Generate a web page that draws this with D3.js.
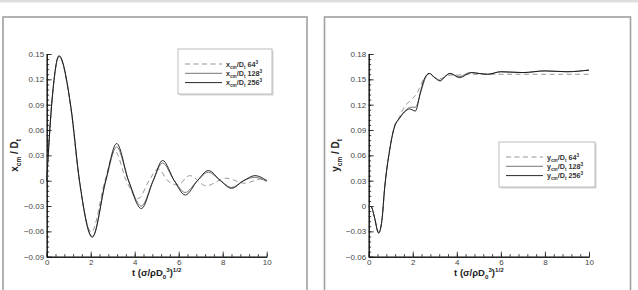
<!DOCTYPE html>
<html>
<head>
<meta charset="utf-8">
<script src="https://cdn.jsdelivr.net/npm/d3@7"></script>
<style>
  body { margin: 0; background: #fff; }
  svg { display: block; font-family: "Liberation Sans", Arial, sans-serif; }
</style>
</head>
<body>
<svg id="chart" width="638" height="290"></svg>
<script>
// Values, as [t, value] points
const xTicks = [0, 2, 4, 6, 8, 10];
const yTicksLeft = [-0.09, -0.06, -0.03, 0, 0.03, 0.06, 0.09, 0.12, 0.15];
const yTicksRight = [-0.06, -0.03, 0, 0.03, 0.06, 0.09, 0.12, 0.15, 0.18];
const gridNames = ["64", "128", "256"];

// x_cm / D_t
const xcm64 = [[0,0.002],[0.25,0.097],[0.55,0.147],[1.1,0.085],[1.48,0],[2.03,-0.061],[2.65,0],[3.1,0.035],
  [3.62,0],[4.17,-0.021],[4.65,0],[5.07,0.014],[5.5,0],[5.95,-0.005],[6.5,0.006],[7.25,-0.006],
  [8.15,0.003],[9.0,-0.003],[9.75,0.002],[10,0.001]];
const xcm128 = [[0,0],[0.25,0.097],[0.56,0.147],[1.1,0.087],[1.49,0],[2.08,-0.066],[2.69,0],[3.18,0.040],
  [3.72,0],[4.3,-0.030],[4.84,0],[5.26,0.021],[5.8,0],[6.3,-0.014],[6.85,0],[7.35,0.010],[7.9,0],
  [8.4,-0.008],[8.95,0],[9.45,0.004],[10,-0.001]];
const xcm256 = [[0,0],[0.25,0.098],[0.56,0.148],[1.1,0.087],[1.49,0],[2.07,-0.067],[2.68,0],[3.18,0.044],
  [3.72,0],[4.3,-0.033],[4.84,0],[5.27,0.024],[5.8,0],[6.3,-0.017],[6.85,0],[7.35,0.012],[7.9,0],
  [8.4,-0.009],[8.95,0],[9.47,0.006],[10,0]];

// y_cm / D_t
const ycm64 = [[0,0],[0.12,-0.001],[0.25,-0.012],[0.45,-0.031],[0.6,-0.017],[0.72,0.02],[0.95,0.067],
  [1.15,0.093],[1.4,0.106],[1.62,0.1175],[1.92,0.1255],[2.15,0.132],[2.52,0.151],[2.72,0.156],
  [3.1,0.151],[3.3,0.151],[3.6,0.155],[4.0,0.155],[4.5,0.156],[5.0,0.156],[6,0.156],[8,0.156],[10,0.156]];
const ycm128 = [[0,0],[0.12,-0.001],[0.25,-0.012],[0.45,-0.032],[0.6,-0.017],[0.72,0.02],[0.95,0.066],
  [1.15,0.092],[1.4,0.104],[1.7,0.114],[1.9,0.117],[2.12,0.117],[2.4,0.138],[2.6,0.153],[2.75,0.157],
  [3.0,0.152],[3.25,0.149],[3.45,0.153],[3.7,0.157],[4.1,0.153],[4.6,0.158],[5.0,0.157],[5.4,0.156],
  [6.0,0.159],[7.0,0.158],[8.0,0.160],[9.0,0.159],[10,0.161]];
const ycm256 = [[0,0],[0.12,-0.001],[0.25,-0.012],[0.45,-0.032],[0.6,-0.017],[0.72,0.02],[0.95,0.066],
  [1.15,0.092],[1.4,0.104],[1.7,0.113],[1.85,0.115],[2.12,0.1125],[2.35,0.135],[2.55,0.152],[2.75,0.157],
  [3.0,0.152],[3.25,0.148],[3.45,0.153],[3.68,0.157],[4.13,0.152],[4.66,0.158],[5.0,0.157],[5.4,0.156],
  [6.0,0.159],[7.0,0.158],[8.0,0.160],[9.0,0.159],[10,0.161]];

const svg = d3.select("#chart");
const styles = [
  { stroke: "#8a8a8a", dash: "5,3.5", width: 0.9 },
  { stroke: "#666", dash: null, width: 0.9 },
  { stroke: "#111", dash: null, width: 0.9 }
];

// thin light rule along the top of the image
svg.append("rect").attr("x", 0).attr("y", 0).attr("width", 638).attr("height", 2.5).attr("fill", "#dedede");

// text with sub/superscripts: parts = [string, "sub" | "sup" | null]
function richText(sel, parts, size) {
  let cur = 0;
  parts.forEach(([s, kind]) => {
    const target = kind === "sub" ? size * 0.3 : kind === "sup" ? -size * 0.42 : 0;
    sel.append("tspan")
      .attr("dy", target - cur)
      .attr("font-size", kind ? size * 0.65 : size)
      .text(s);
    cur = target;
  });
}

function drawPanel(p) {
  const g = svg.append("g");

  g.append("rect")
    .attr("x", p.frame[0]).attr("y", p.frame[1])
    .attr("width", p.frame[2]).attr("height", p.frame[3])
    .attr("fill", "none").attr("stroke", "#a0a0a0").attr("stroke-width", 1.6);

  const x = d3.scaleLinear().domain([0, 10]).range([p.left, p.right]);
  const y = d3.scaleLinear().domain(p.yDomain).range([p.bottom, p.top]);

  const yMinor = d3.range(Math.round(p.yDomain[0] / 0.006), Math.round(p.yDomain[1] / 0.006) + 1).map(i => i * 0.006);
  const xMinor = d3.range(0, 26).map(i => i * 0.4);

  g.append("g").attr("transform", `translate(${p.left},0)`)
    .call(d3.axisLeft(y).tickValues(yMinor).tickSize(-2.5).tickSizeOuter(0).tickFormat(""));
  g.append("g").attr("transform", `translate(0,${p.bottom})`)
    .call(d3.axisBottom(x).tickValues(xMinor).tickSize(-2.5).tickSizeOuter(0).tickFormat(""));

  const yAxis = g.append("g").attr("transform", `translate(${p.left},0)`)
    .call(d3.axisLeft(y).tickValues(p.yTicks).tickSize(-5).tickSizeOuter(0).tickPadding(2.5)
      .tickFormat(d => Math.abs(d) < 1e-9 ? "0" : d3.format(".2f")(d)));
  const xAxis = g.append("g").attr("transform", `translate(0,${p.bottom})`)
    .call(d3.axisBottom(x).tickValues(xTicks).tickSize(-5).tickSizeOuter(0).tickPadding(3));

  g.selectAll(".domain").attr("stroke", "#111").attr("stroke-width", 1);
  g.selectAll(".tick line").attr("stroke", "#111").attr("stroke-width", 0.8);
  [xAxis, yAxis].forEach(a => a.selectAll("text")
    .attr("font-size", 8).attr("fill", "#444").attr("font-family", "Liberation Sans, Arial, sans-serif"));

  const line = d3.line().x(d => x(d[0])).y(d => y(d[1])).curve(d3.curveMonotoneX);
  p.series.forEach((s, i) => {
    g.append("path").datum(s)
      .attr("fill", "none")
      .attr("stroke", styles[i].stroke)
      .attr("stroke-width", styles[i].width)
      .attr("stroke-dasharray", styles[i].dash)
      .attr("d", line);
  });

  // axis titles
  const yl = g.append("text")
    .attr("transform", `translate(${p.yLabelX},${(p.top + p.bottom) / 2}) rotate(-90)`)
    .attr("text-anchor", "middle").attr("font-weight", "bold").attr("fill", "#222");
  richText(yl, [[p.v, null], ["cm", "sub"], [" / D", null], ["t", "sub"]], 10);

  const xl = g.append("text")
    .attr("x", (p.left + p.right) / 2).attr("y", 276)
    .attr("text-anchor", "middle").attr("font-weight", "bold").attr("fill", "#222");
  richText(xl, [["t (σ/ρD", null], ["0", "sub"], ["3", "sup"], [")", null], ["1/2", "sup"]], 9.5);

  // legend
  const L = p.legend;
  g.append("rect").attr("x", L.x + 1.5).attr("y", L.y + 1.5).attr("width", L.w).attr("height", L.h)
    .attr("fill", "#d4d4d4");
  g.append("rect").attr("x", L.x).attr("y", L.y).attr("width", L.w).attr("height", L.h)
    .attr("fill", "#fff").attr("stroke", "#bdbdbd").attr("stroke-width", 1);

  gridNames.forEach((n, i) => {
    const ry = L.y + 15 + i * 9.3;
    g.append("line")
      .attr("x1", L.x + 7).attr("x2", L.x + 44).attr("y1", ry).attr("y2", ry)
      .attr("stroke", styles[i].stroke).attr("stroke-width", styles[i].width)
      .attr("stroke-dasharray", styles[i].dash);
    const t = g.append("text").attr("x", L.x + 48).attr("y", ry + 2.6)
      .attr("font-weight", "bold").attr("fill", "#333");
    richText(t, [[p.v, null], ["cm", "sub"], ["/D", null], ["t", "sub"], [" " + n, null], ["3", "sup"]], 7.2);
  });
}

drawPanel({
  frame: [3, 17, 304, 290], left: 46.7, right: 266.7, top: 54, bottom: 256.7,
  yDomain: [-0.09, 0.15], yTicks: yTicksLeft, yLabelX: 18, v: "x",
  series: [xcm64, xcm128, xcm256],
  legend: { x: 178, y: 49, w: 94, h: 45 }
});

drawPanel({
  frame: [324.5, 17, 306, 290], left: 368.7, right: 589, top: 54, bottom: 256.7,
  yDomain: [-0.06, 0.18], yTicks: yTicksRight, yLabelX: 339, v: "y",
  series: [ycm64, ycm128, ycm256],
  legend: { x: 499, y: 142, w: 96, h: 45 }
});
</script>
</body>
</html>
